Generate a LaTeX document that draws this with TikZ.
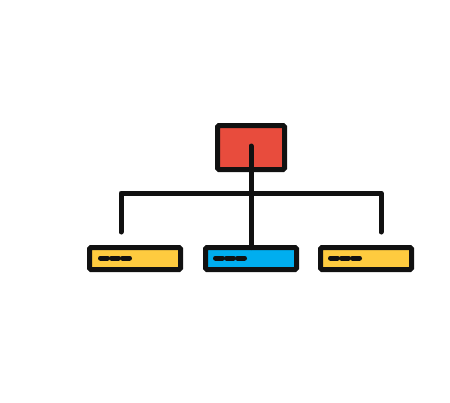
\documentclass[tikz,border=0pt]{standalone}
\definecolor{redbox}{HTML}{E84C3D}
\definecolor{yellowbox}{HTML}{FECB3F}
\definecolor{bluebox}{HTML}{00AEEF}
\definecolor{ink}{HTML}{111111}
\tikzset{
  box/.style={draw=ink, line width=5pt, rounded corners=1.5pt, inner sep=0pt, outer sep=0pt},
  wire/.style={draw=ink, line width=5pt, line cap=round, line join=round},
  dashline/.style={draw=ink, line width=5pt, line cap=round}
}
\begin{document}
\begin{tikzpicture}[x=1pt,y=-1pt]
\useasboundingbox (0,0) rectangle (450,402);
\fill[white] (0,0) rectangle (450,402);
% boxes
\node[box, fill=redbox, minimum width=67pt, minimum height=44pt] (root) at (251,147.5) {};
\node[box, fill=yellowbox, minimum width=91pt, minimum height=22pt] (left) at (135,258.5) {};
\node[box, fill=bluebox, minimum width=91pt, minimum height=22pt] (mid) at (251,258.5) {};
\node[box, fill=yellowbox, minimum width=91pt, minimum height=22pt] (right) at (366,258.5) {};
% connectors
\coordinate (rootin) at (251,146);
\coordinate (lend) at (121,232);
\coordinate (rend) at (381,232);
\coordinate (bar) at (251,193);
\draw[wire] (rootin) -- (rootin |- mid.north);
\draw[wire] (lend) |- (bar) -| (rend);
% dashes
\foreach \n/\x in {left/100.5, mid/215.5, right/330.5} {
  \draw[dashline] (\x,258) -- ++(7,0);
  \draw[dashline] (\x+11,258) -- ++(7,0);
  \draw[dashline] (\x+22,258) -- ++(7,0);
}
\end{tikzpicture}
\end{document}
